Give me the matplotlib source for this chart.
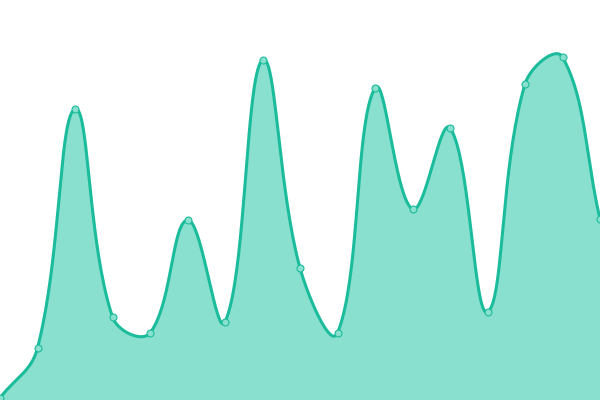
import numpy as np
import matplotlib
matplotlib.use('Agg')
import matplotlib.pyplot as plt

# valores
indices = list(range(17))
valores = [2, 52, 291, 83, 67, 180, 78, 340, 132, 67, 312, 191, 272, 88, 316, 343, 181]

cor_linha = '#1abc9c'
cor_area = '#8ae0cf'


def curva_suave(xs, ys, tensao=0.4, escala_x=37.5, n=40):
    # spline no estilo Chart.js (pontos de controle ponderados pela distancia)
    px = np.array(xs, float) * escala_x
    py = np.array(ys, float)
    m = len(px)
    cp_ant = np.zeros((m, 2))
    cp_prox = np.zeros((m, 2))
    for i in range(m):
        a = (px[max(i - 1, 0)], py[max(i - 1, 0)])
        b = (px[i], py[i])
        c = (px[min(i + 1, m - 1)], py[min(i + 1, m - 1)])
        d01 = np.hypot(b[0] - a[0], b[1] - a[1])
        d12 = np.hypot(c[0] - b[0], c[1] - b[1])
        s01 = d01 / (d01 + d12) if d01 + d12 else 0
        s12 = d12 / (d01 + d12) if d01 + d12 else 0
        fa = tensao * s01
        fb = tensao * s12
        cp_ant[i] = (b[0] - fa * (c[0] - a[0]), b[1] - fa * (c[1] - a[1]))
        cp_prox[i] = (b[0] + fb * (c[0] - a[0]), b[1] + fb * (c[1] - a[1]))
    cx, cy = [], []
    t = np.linspace(0, 1, n)
    for i in range(m - 1):
        p0 = np.array([px[i], py[i]])
        p1 = cp_prox[i]
        p2 = cp_ant[i + 1]
        p3 = np.array([px[i + 1], py[i + 1]])
        pts = ((1 - t) ** 3)[:, None] * p0 + (3 * (1 - t) ** 2 * t)[:, None] * p1 \
            + (3 * (1 - t) * t ** 2)[:, None] * p2 + (t ** 3)[:, None] * p3
        cx.extend(pts[:, 0] / escala_x)
        cy.extend(pts[:, 1])
    return np.array(cx), np.array(cy)


fig = plt.figure(figsize=(6, 4), dpi=100)
ax = fig.add_axes([0, 0, 1, 1])

sx, sy = curva_suave(indices, valores)
ax.fill_between(sx, 0, sy, color=cor_area, linewidth=0)
ax.plot(sx, sy, color=cor_linha, linewidth=2.2, solid_capstyle='round')
ax.plot(indices, valores, 'o', markersize=5, markerfacecolor=cor_area,
        markeredgecolor=cor_linha, markeredgewidth=0.8, clip_on=False)

ax.set_xlim(0, 16)
ax.set_ylim(0, 400)
ax.axis('off')

fig.savefig('out.png', dpi=100)
